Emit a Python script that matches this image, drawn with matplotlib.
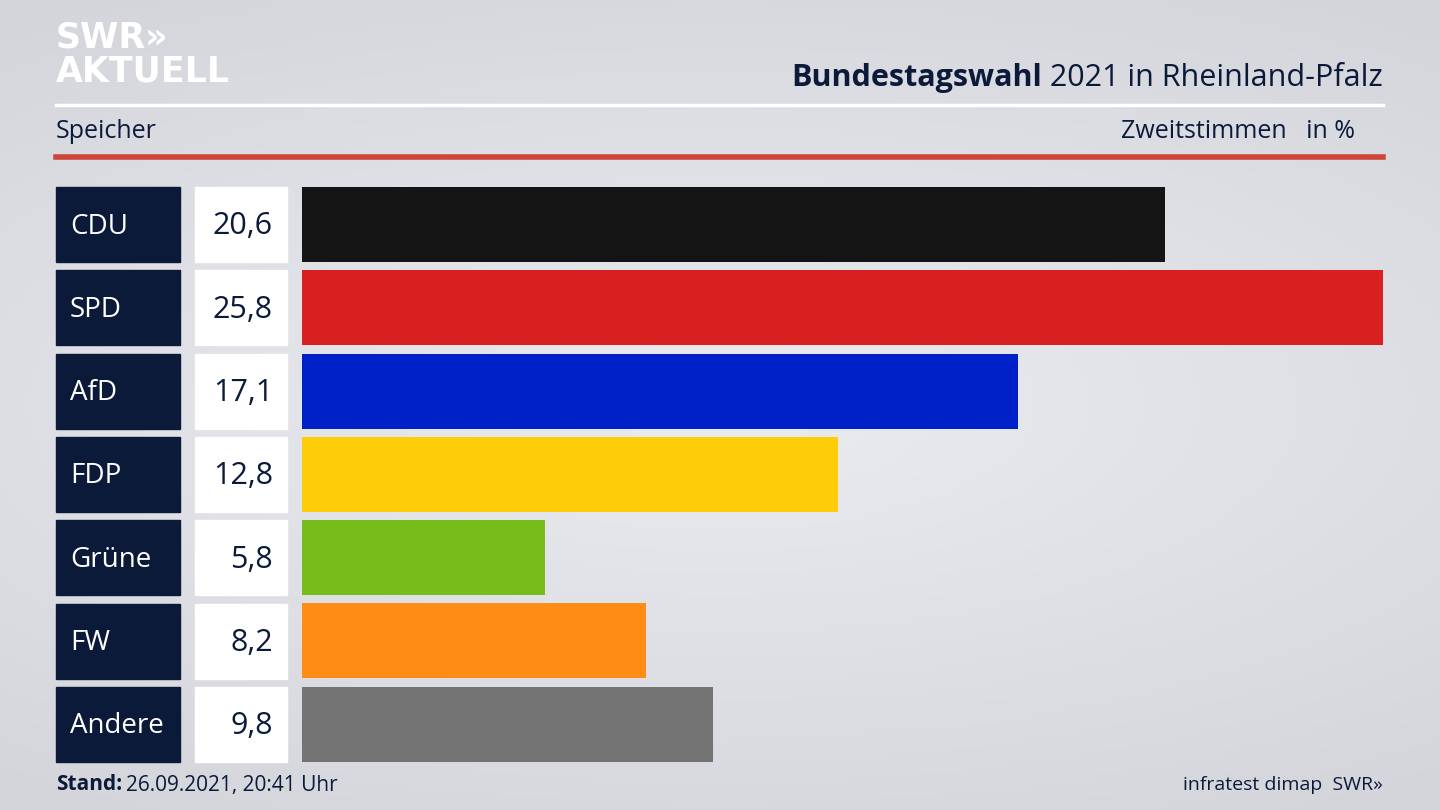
import numpy as np
import matplotlib
matplotlib.use("Agg")
import matplotlib.pyplot as plt
from matplotlib.patches import Rectangle
from matplotlib.colors import LinearSegmentedColormap

matplotlib.rcParams["font.family"] = ["Open Sans", "DejaVu Sans"]

parties = ["CDU", "SPD", "AfD", "FDP", "Grüne", "FW", "Andere"]
values = [20.6, 25.8, 17.1, 12.8, 5.8, 8.2, 9.8]
labels = ["20,6", "25,8", "17,1", "12,8", "5,8", "8,2", "9,8"]
colors = ["#141414", "#d82020", "#0020c8", "#ffcc0a", "#78bc1c", "#ff8c14", "#737373"]

NAVY = "#0c1a3a"
W, H = 1440, 810
fig = plt.figure(figsize=(14.4, 8.1), dpi=100)

# background + pixel overlay
bg = fig.add_axes([0, 0, 1, 1])
bg.set_xlim(0, W)
bg.set_ylim(H, 0)
bg.axis("off")
xx = np.linspace(-1, 1, 300)
yy = np.linspace(-1, 1, 170)
r = np.sqrt(xx[None, :] ** 2 * 0.5 + yy[:, None] ** 2)
bgcmap = LinearSegmentedColormap.from_list("bg", ["#ebecf0", "#d3d5db"])
bg.imshow(r, cmap=bgcmap, vmin=0, vmax=1.2, extent=[0, W, H, 0], aspect="auto", zorder=0)

# header
bg.text(56, 38, "SWR»", color="white", fontsize=25, fontweight="bold", va="center", family="DejaVu Sans")
bg.text(56, 72, "AKTUELL", color="white", fontsize=25, fontweight="bold", va="center", family="DejaVu Sans")
t = bg.text(1383, 78, " 2021 in Rheinland-Pfalz", color=NAVY, fontsize=22, ha="right", va="center")
fig.canvas.draw()
bb = t.get_window_extent()
bg.text(bb.x0, 78, "Bundestagswahl", color=NAVY, fontsize=22, fontweight="bold",
        ha="right", va="center")
bg.plot([56, 1383], [105, 105], color="white", lw=2.5)
bg.text(56, 132, "Speicher", color=NAVY, fontsize=18, va="center")
bg.text(1355, 132, "Zweitstimmen   in %", color=NAVY, fontsize=18, va="center", ha="right")
bg.plot([56, 1383], [157, 157], color="#d0453a", lw=4)

# footer
bg.text(56, 785, "Stand:", color=NAVY, fontsize=15, fontweight="bold", va="center")
bg.text(126, 785, "26.09.2021, 20:41 Uhr", color=NAVY, fontsize=15, va="center")
bg.text(1383, 785, "infratest dimap  SWR»", color=NAVY, fontsize=14, va="center", ha="right")

# rows
top, step, bh = 187, 83.3, 75
for i, (p, lab) in enumerate(zip(parties, labels)):
    y0 = top + i * step
    bg.add_patch(Rectangle((56, y0), 124, bh, color=NAVY, zorder=2))
    bg.add_patch(Rectangle((195, y0), 92, bh, color="white", zorder=2))
    bg.text(70, y0 + bh / 2 + 2, p, color="white", fontsize=20, va="center", zorder=3)
    bg.text(273, y0 + bh / 2 + 2, lab, color=NAVY, fontsize=22, va="center", ha="right", zorder=3)

# bars
ax = fig.add_axes([302 / W, 1 - (top + 6 * step + bh) / H, (1383 - 302) / W, (6 * step + bh) / H])
ax.patch.set_alpha(0)
n = len(parties)
ax.barh(np.arange(n), values, height=bh / step, color=colors)
ax.set_xlim(0, max(values))
ax.set_ylim(n - 1 + bh / step / 2, -bh / step / 2)
ax.axis("off")

fig.savefig("out.png", dpi=100)
